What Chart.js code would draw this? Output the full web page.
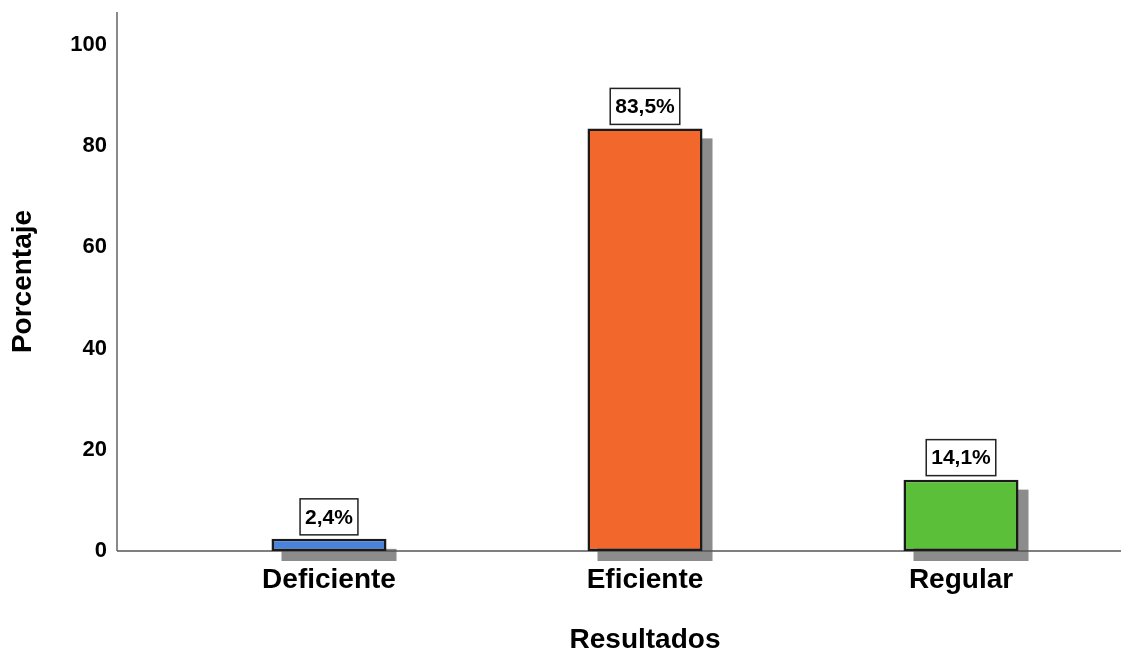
<!DOCTYPE html>
<html>
<head>
<meta charset="utf-8">
<script src="https://cdn.jsdelivr.net/npm/chart.js@4.4.1/dist/chart.umd.min.js"></script>
<style>
  html, body { margin: 0; padding: 0; background: #fff; }
  #wrap { width: 1121px; height: 652px; }
</style>
</head>
<body>
<div id="wrap"><canvas id="myChart" width="1121" height="652"></canvas></div>
<script>
// data
const categorias = ['Deficiente', 'Eficiente', 'Regular']
const porcentajes = [2.4, 83.5, 14.1]
const colores = ['#4a82dc', '#f2682c', '#5cbf3a']
const yTicks = [0, 20, 40, 60, 80, 100]

const FONT = 'Liberation Sans, Arial, sans-serif'

// gray drop shadow behind each bar + the axis lines
const shadowPlugin = {
    id: 'shadows',
    beforeDatasetsDraw(chart) {
        const ctx = chart.ctx
        const meta = chart.getDatasetMeta(0)
        ctx.save()
        ctx.fillStyle = '#8c8c8c'
        meta.data.forEach(bar => {
            const w = bar.width
            ctx.fillRect(bar.x - w / 2 + 10, bar.y + 10, w, bar.base - bar.y)
        })
        const y0 = chart.scales.y.getPixelForValue(0)
        const axX = 117
        ctx.strokeStyle = '#8a8a8a'
        ctx.lineWidth = 2
        ctx.beginPath()
        ctx.moveTo(axX, chart.chartArea.top)
        ctx.lineTo(axX, y0)
        ctx.stroke()
        ctx.strokeStyle = '#555'
        ctx.lineWidth = 1.5
        ctx.beginPath()
        ctx.moveTo(axX, y0)
        ctx.lineTo(chart.width, y0)
        ctx.stroke()
        ctx.restore()
    }
}

// boxed value labels above the bars
const labelPlugin = {
    id: 'boxLabels',
    afterDatasetsDraw(chart) {
        const ctx = chart.ctx
        const meta = chart.getDatasetMeta(0)
        ctx.save()
        ctx.font = 'bold 21px ' + FONT
        ctx.textAlign = 'center'
        ctx.textBaseline = 'middle'
        meta.data.forEach((bar, i) => {
            const txt = porcentajes[i].toFixed(1).replace('.', ',') + '%'
            const tw = ctx.measureText(txt).width
            const bw = tw + 10, bh = 36
            const bx = bar.x - bw / 2, by = bar.y - 4 - bh
            ctx.fillStyle = '#fff'
            ctx.fillRect(bx, by, bw, bh)
            ctx.strokeStyle = '#222'
            ctx.lineWidth = 1.5
            ctx.strokeRect(bx, by, bw, bh)
            ctx.fillStyle = '#000'
            ctx.fillText(txt, bar.x, by + bh / 2 + 1)
        })
        ctx.restore()
    }
}

const ctx = document.getElementById('myChart').getContext('2d')
new Chart(ctx, {
    type: 'bar',
    data: {
        labels: categorias,
        datasets: [{
            data: porcentajes,
            backgroundColor: colores,
            borderColor: '#1a1a1a',
            borderWidth: 2.5,
            borderSkipped: false,
            categoryPercentage: 1,
            barPercentage: 0.364
        }]
    },
    options: {
        responsive: false,
        animation: false,
        layout: { padding: { top: 12, right: 2, left: 0, bottom: 0 } },
        plugins: {
            legend: { display: false },
            tooltip: { enabled: false }
        },
        scales: {
            x: {
                grid: { display: false, drawTicks: false },
                border: { display: false },
                ticks: {
                    color: '#000',
                    padding: 12,
                    font: { family: FONT, size: 28, weight: 'bold' }
                },
                title: {
                    display: true,
                    text: 'Resultados',
                    color: '#000',
                    padding: { top: 0, bottom: -5 },
                    font: { family: FONT, size: 28, weight: 'bold' }
                },
                afterFit(scale) { scale.height = 101 }
            },
            y: {
                min: 0,
                max: 106.5,
                grid: { display: false, drawTicks: false },
                border: { display: false },
                afterBuildTicks(scale) { scale.ticks = yTicks.map(v => ({ value: v })) },
                ticks: {
                    color: '#000',
                    padding: 64,
                    font: { family: FONT, size: 22, weight: 'bold' }
                },
                title: {
                    display: true,
                    text: 'Porcentaje',
                    color: '#000',
                    padding: { top: 6, bottom: 0 },
                    font: { family: FONT, size: 28, weight: 'bold' }
                },
                afterFit(scale) {
                    scale.width = 171
                    scale.paddingTop = 0
                    scale.paddingBottom = 0
                }
            }
        }
    },
    plugins: [shadowPlugin, labelPlugin]
})
</script>
</body>
</html>
